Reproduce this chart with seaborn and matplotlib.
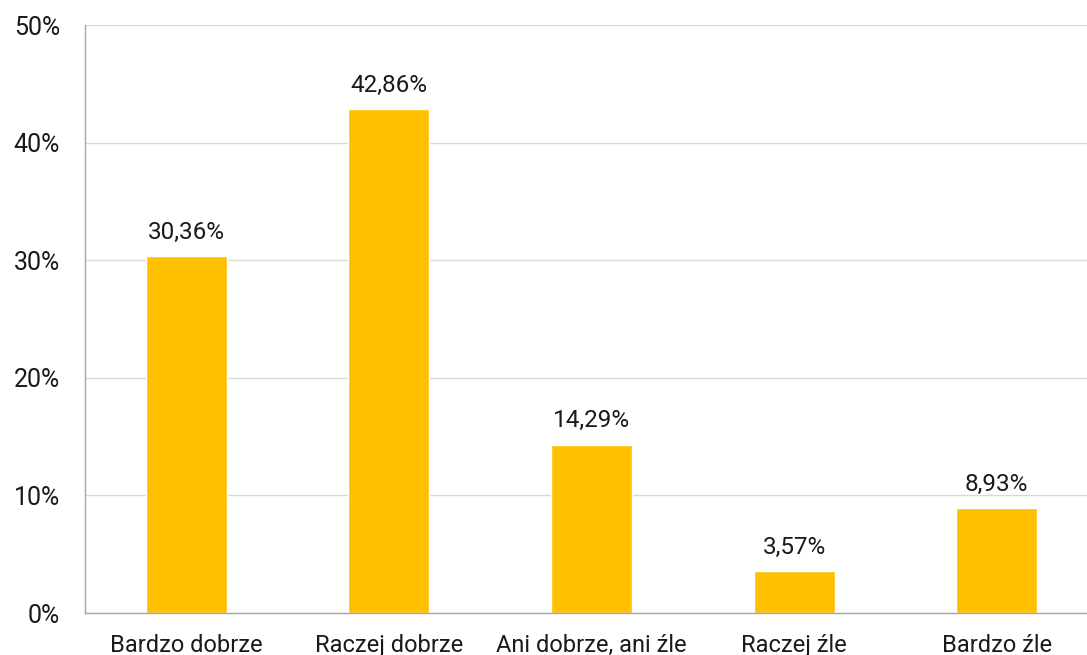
import matplotlib
matplotlib.use('Agg')
import matplotlib.pyplot as plt
import seaborn as sns
import numpy as np

# data
categories = ['Bardzo dobrze', 'Raczej dobrze', 'Ani dobrze, ani źle', 'Raczej źle', 'Bardzo źle']
shares = [30.36, 42.86, 14.29, 3.57, 8.93]
y_ticks = [0, 10, 20, 30, 40, 50]

sns.set_style('white')
plt.rcParams['font.family'] = ['Roboto', 'DejaVu Sans']

fig = plt.figure(figsize=(10.87, 6.55), dpi=100)
# the plot area runs a little past the right edge of the picture
ax = fig.add_axes([0.0782, 0.0641, 0.932, 0.8977])

sns.barplot(x=categories, y=shares, color='#FFC000', width=0.4, saturation=1, ax=ax)

# value labels above bars
for i, v in enumerate(shares):
    ax.annotate(f'{v:.2f}'.replace('.', ',') + '%', (i, v), xytext=(0, 9),
                textcoords='offset points', ha='center', va='bottom',
                fontsize=17.5, color='#1a1a1a')

ax.set_xlim(-0.5, len(categories) - 0.5)
ax.set_ylim(0, 50)
ax.set_yticks(y_ticks)
ax.set_yticklabels([f'{t}%' for t in y_ticks])
ax.yaxis.grid(True, color='#D9D9D9', linewidth=1)
ax.set_axisbelow(True)

# category ticks hidden, separators as minor ticks
ax.set_xticks(np.arange(-0.5, len(categories)), minor=True)
ax.tick_params(axis='x', which='major', length=0, pad=15, labelsize=17, labelcolor='#1a1a1a')
ax.tick_params(axis='x', which='minor', length=8, width=1, color='#A6A6A6', direction='out')
ax.tick_params(axis='y', length=8, width=1, color='#A6A6A6', pad=10, labelsize=18,
               labelcolor='#1a1a1a', direction='out')

for side in ['top', 'right']:
    ax.spines[side].set_visible(False)
for side in ['left', 'bottom']:
    ax.spines[side].set_color('#A6A6A6')
    ax.spines[side].set_linewidth(1)

ax.set_xlabel('')
ax.set_ylabel('')

fig.savefig('out.png', dpi=100)
plt.close(fig)
